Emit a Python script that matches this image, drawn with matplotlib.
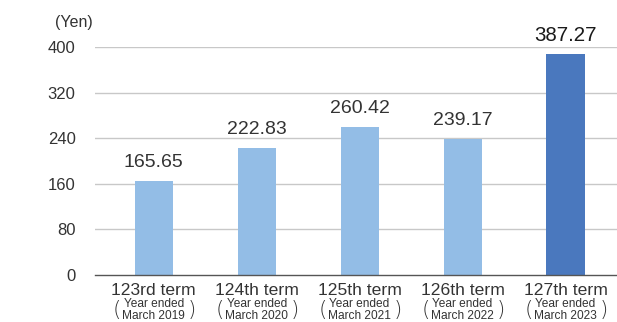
import matplotlib
matplotlib.use("Agg")
import matplotlib.pyplot as plt

plt.rcParams['font.family'] = ['Liberation Sans', 'DejaVu Sans']

terms = ["123rd term", "124th term", "125th term", "126th term", "127th term"]
years = ["March 2019", "March 2020", "March 2021", "March 2022", "March 2023"]
values = [165.65, 222.83, 260.42, 239.17, 387.27]
yticks = [0, 80, 160, 240, 320, 400]

light = "#93BDE6"
dark = "#4A78BE"
colors = [light] * 4 + [dark]

fig = plt.figure(figsize=(6.17, 3.22), dpi=100)
ax = fig.add_axes([95 / 617, 47 / 322, 522 / 617, 228 / 322])

x = list(range(len(values)))
ax.bar(x, values, width=0.37, color=colors, zorder=2)

ax.set_xlim(-0.57, 4.5)
ax.set_ylim(0, 400)
ax.set_yticks(yticks)
ax.set_yticklabels([str(t) for t in yticks], fontsize=12, color="#333333")
ax.tick_params(axis="y", length=0, pad=14)
ax.set_xticks([])
for s in ["top", "right", "left"]:
    ax.spines[s].set_visible(False)
ax.spines["bottom"].set_color("#555555")
ax.spines["bottom"].set_linewidth(1.0)
ax.spines["bottom"].set_zorder(3)
for t in yticks[1:]:
    ax.axhline(t, color="#c8c8c8", lw=1.0, zorder=1)

# value labels above each bar
for i, v in enumerate(values):
    last = i == len(values) - 1
    ax.annotate(f"{v:.2f}", xy=(i, v), xytext=(0, 7), textcoords="offset points",
                ha="center", va="bottom",
                fontsize=14.8 if last else 14,
                color="#1a1a1a" if last else "#333333",
                bbox=dict(facecolor="white", edgecolor="none", pad=1) if last else None,
                zorder=4, annotation_clip=False)

# category labels below the axis
for i, (term, yr) in enumerate(zip(terms, years)):
    kw = dict(xy=(i, 0), xycoords=("data", "axes fraction"),
              textcoords="offset points", ha="center", va="center",
              color="#333333", annotation_clip=False)
    ax.annotate(term, xytext=(0, -11.0), fontsize=12.6, **kw)
    ax.annotate("Year ended", xytext=(0, -21.0), fontsize=8.6, **kw)
    ax.annotate(yr, xytext=(0, -29.6), fontsize=8.6, **kw)
    ax.annotate("(", xytext=(-26.5, -25.3), fontsize=15.5,
                family=["DejaVu Sans"], fontweight=200, **kw)
    ax.annotate(")", xytext=(27.5, -25.3), fontsize=15.5,
                family=["DejaVu Sans"], fontweight=200, **kw)

fig.text(55 / 617, 1 - 22 / 322, "(Yen)", fontsize=11.5, color="#333333",
         ha="left", va="center")

fig.savefig("out.png", dpi=100)
